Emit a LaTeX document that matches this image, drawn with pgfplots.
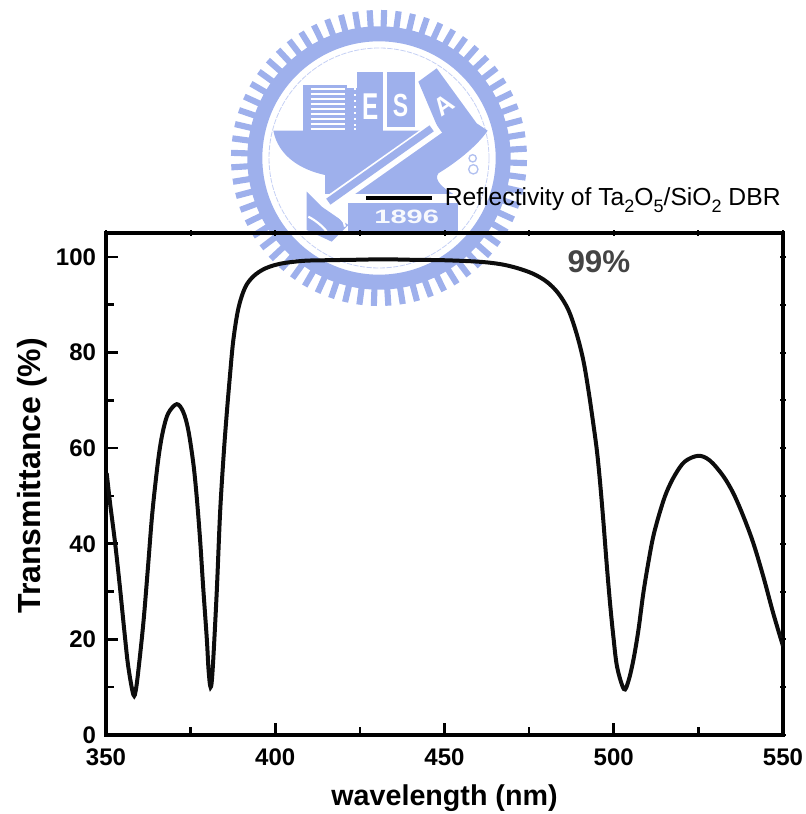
\documentclass[border=0pt]{standalone}
\usepackage{pgfplots}
\usepackage{pgfplotstable}
\usepackage{fontspec}
\setmainfont{Liberation Sans}
\pgfplotsset{compat=1.18}
\definecolor{logoblue}{RGB}{158,176,236}
\definecolor{darkt}{RGB}{68,68,68}
\pgfplotstableread{
x y
350.2 54.8
351.2 48.5
352.7 40.1
354.1 31
355.6 20.5
356.6 14.2
358.1 8.4
358.9 9.8
360 16.3
361.2 24.7
362.5 36
363.5 45
364.5 52
365.7 59
366.9 63.8
368.4 67.3
370.9 69.2
372.8 67.6
374.3 63.8
375.8 56.8
376.8 49.8
377.8 40.8
378.7 31
379.8 19.9
380.3 13.6
380.9 10.0
381.5 13.6
382.7 29.7
383.7 46.4
384.7 58
385.6 66.6
386.6 75
387.6 82.5
389.1 89.2
391.1 93.6
393.5 95.9
396.5 97.4
399.9 98.3
403.4 98.8
408.8 99.2
414.7 99.3
423.6 99.4
432 99.5
440 99.4
450 99.3
460 99.0
466.4 98.5
471.3 97.7
476.1 96.5
480.2 94.8
483.6 92.4
486.6 88.9
489 84
491 78.4
492.5 72.2
493.8 65.9
495 59.6
495.9 53.3
496.9 45
497.9 35.9
498.9 27.6
499.9 20.5
501 14.2
503 9.6
504.3 11.2
505.8 15.7
507.3 22
508.7 29.5
510.2 36
511.7 41.6
513.7 46.8
515.6 50.8
518.1 54.4
521 57.2
525 58.4
528.4 57.4
532.3 54.2
535.3 50.6
538.2 45.9
541.2 40.2
544.2 33.1
547.1 25.5
550 18.6
}\curve
\newcommand{\sub}[1]{\raisebox{-0.55ex}{\fontsize{13.5}{13.5}\selectfont #1}}
\begin{document}
\begin{tikzpicture}[x=0.75pt,y=0.75pt]
\useasboundingbox (0,0) rectangle (806,814);
% watermark logo: gear ring
\begin{scope}[shift={(220,814)},x=0.25pt,y=-0.25pt]
  \foreach \i in {0,...,63}{
    \pgfmathsetmacro{\a}{\i*5.625+2}
    \draw[logoblue,line width=4.6pt] (477,474)++(\a:385) -- ++(\a:59);
  }
  \fill[logoblue,even odd rule] (477,474) circle[radius=395] (477,474) circle[radius=350];
  \draw[logoblue!60,line width=0.6pt,dash pattern=on 4pt off 1pt] (477,474) circle[radius=330];
\end{scope}
% watermark logo: emblem
\begin{scope}[shift={(295,754)},x=0.25pt,y=-0.25pt]
  % striped book
  \fill[logoblue] (25,75) rectangle (155,215);
  \foreach \yy in {88,103,118,133,148,163,178,193,206}
    \draw[white,line width=1.5pt] (47,\yy) -- (150,\yy);
  % book E with dots
  \fill[logoblue] (155,85) rectangle (265,215);
  \fill[logoblue] (187,35) rectangle (265,100);
  \foreach \yy in {85,103,121,139,157,175,193,203}
    \fill[white] (178,\yy) rectangle (184,\yy+6);
  \node[white,xscale=0.65,font=\bfseries\fontsize{28}{28}\selectfont] at (228,140) {E};
  % book S
  \fill[logoblue] (275,35) rectangle (360,200);
  \node[white,xscale=0.72,font=\bfseries\fontsize{24}{24}\selectfont] at (317,135) {S};
  % anvil
  \fill[logoblue] (-65,212) -- (578,212) .. controls (545,260) and (480,310) .. (430,340)
     .. controls (415,360) and (445,385) .. (475,402) -- (90,402) -- (90,345)
     .. controls (20,330) and (-50,290) .. (-65,212) -- cycle;
  % leaning book A
  \fill[logoblue] (370,65) -- (425,25) -- (545,190) -- (578,212) -- (440,230) -- cycle;
  \node[white,rotate=35,font=\bfseries\fontsize{19}{19}\selectfont] at (447,136) {A};
  % plate with year
  \fill[logoblue] (160,428) rectangle (490,515);
  \node[white!92!logoblue,xscale=1.5,font=\bfseries\fontsize{14.5}{14.5}\selectfont] at (335,470) {1896};
  % bar with white outline and hammer head
  \draw[white,line width=11pt] (428,200) -- (95,435);
  \draw[logoblue,line width=5.5pt] (410,205) -- (100,425);
  \fill[logoblue] (35,395) -- (80,440) -- (160,495) -- (110,545) -- (35,510) -- cycle;
  \draw[white,line width=1.6pt] (110,450) .. controls (130,470) and (150,480) .. (150,500);
  \draw[white,line width=1.6pt] (40,470) .. controls (60,480) and (85,500) .. (95,515);
  % chain
  \draw[logoblue!80,line width=1pt] (533,295) circle[radius=11] (535,328) circle[radius=14];
\end{scope}
\begin{axis}[
  at={(79.5pt,59.25pt)},anchor=south west,
  scale only axis,width=507.75pt,height=376.5pt,
  xmin=350,xmax=550,ymin=0,ymax=105,
  xtick={350,400,450,500,550},ytick={0,20,40,60,80,100},
  minor x tick num=1,minor y tick num=1,
  xtick pos=left,ytick pos=left,tick align=inside,
  major tick length=9pt,minor tick length=6pt,
  every tick/.style={black,line width=1.9pt},
  minor tick style={line width=1.9pt},
  axis line style={line width=2.5pt},
  /pgf/number format/assume math mode=true,
  ticklabel style={font=\bfseries\fontsize{18}{20}\selectfont},
  xticklabel style={yshift=-7pt},
  yticklabel style={xshift=-4pt},
  xlabel={wavelength (nm)},ylabel={Transmittance (\%)},
  xlabel style={font=\bfseries\fontsize{21.5}{24}\selectfont,at={(axis description cs:0.5,-0.089)},anchor=north},
  ylabel style={font=\bfseries\fontsize{24}{28}\selectfont,at={(axis description cs:-0.08,0.516)},anchor=south},
  legend style={at={(axis cs:426.2,112.4)},anchor=west,draw=none,fill=none,inner sep=0pt,
     font=\fontsize{18.5}{20}\selectfont},
  legend image code/.code={\draw[black,line width=3pt] (-2pt,0) -- (47.5pt,0); \path (53.5pt,0);},
  legend cell align=left,
]
\addplot[black!95,line width=3pt,smooth,tension=0.55] table[x=x,y=y] {\curve};
\addlegendentry{Reflectivity of Ta\sub{2}O\sub{5}/SiO\sub{2} DBR}
\node[darkt,font=\bfseries\fontsize{23.5}{26}\selectfont,anchor=center] at (axis cs:495.6,98.9) {99\%};
\end{axis}
\begin{axis}[
  at={(79.5pt,59.25pt)},anchor=south west,
  scale only axis,width=507.75pt,height=376.5pt,
  xmin=350,xmax=550,ymin=0,ymax=105,
  xtick={350,400,450,500,550},ytick={0,20,40,60,80,100},
  minor x tick num=1,minor y tick num=1,
  xtick pos=right,ytick pos=right,tick align=center,
  major tick length=4pt,minor tick length=4pt,
  every tick/.style={black,line width=1.5pt},
  minor tick style={line width=1.5pt},
  axis line style={draw=none},
  xticklabels={},yticklabels={},
]
\end{axis}
\end{tikzpicture}
\end{document}
